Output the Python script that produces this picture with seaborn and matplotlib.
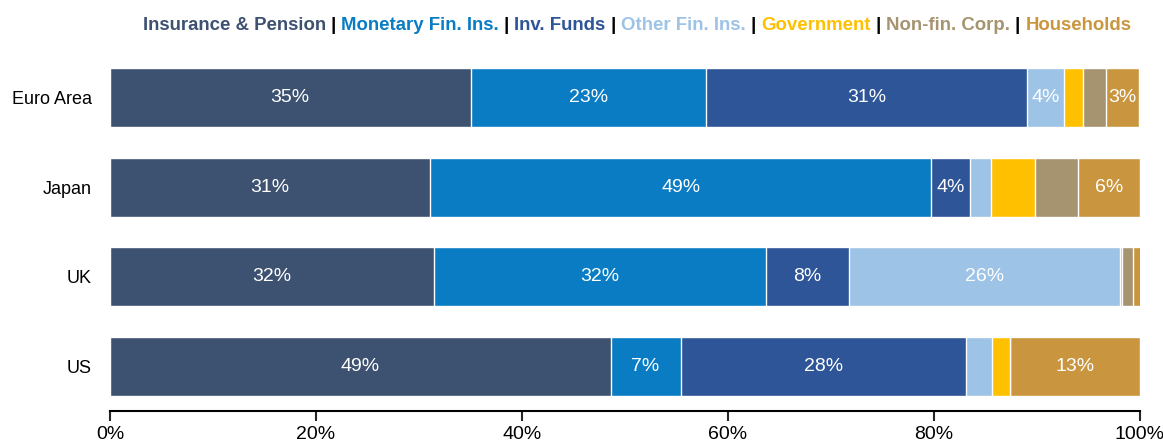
import numpy as np
import pandas as pd
import matplotlib
matplotlib.use("Agg")
import matplotlib.pyplot as plt
import seaborn as sns
from matplotlib.offsetbox import TextArea, HPacker, AnchoredOffsetbox

# data (shares in %)
countries = ["Euro Area", "Japan", "UK", "US"]
sectors = ["Insurance & Pension", "Monetary Fin. Ins.", "Inv. Funds", "Other Fin. Ins.",
           "Government", "Non-fin. Corp.", "Households"]
insurance = [35.0, 31.1, 31.5, 48.6]
monetary = [22.9, 48.6, 32.2, 6.8]
inv_funds = [31.1, 3.8, 8.0, 27.7]
other_fin = [3.6, 2.0, 26.4, 2.5]
government = [1.9, 4.3, 0.2, 1.8]
non_fin = [2.2, 4.2, 1.0, 0.0]
households = [3.2, 6.0, 0.8, 12.6]

colors = ["#3D5170", "#0A7CC4", "#2E5597", "#9DC3E6", "#FFC000", "#A69370", "#C9963F"]
no_label = ["Government", "Non-fin. Corp."]

df = pd.DataFrame(
    [insurance, monetary, inv_funds, other_fin, government, non_fin, households],
    index=sectors, columns=countries).T
cum = df.cumsum(axis=1)

sns.set_style("white")
plt.rcParams['font.family'] = ['Liberation Sans', 'DejaVu Sans']

fig = plt.figure(figsize=(11.63, 4.45), dpi=100)
ax = fig.add_axes([110 / 1163, 1 - 411 / 445, 1030 / 1163, 358 / 445])

# stacked bars: draw cumulative totals from the last sector backwards
for i in range(len(sectors) - 1, -1, -1):
    s = sectors[i]
    sns.barplot(x=cum[s].values, y=countries, orient="h", color=colors[i],
                width=0.66, edgecolor="white", linewidth=1, saturation=1, ax=ax)

for i, s in enumerate(sectors):
    if s in no_label:
        continue
    for j, c in enumerate(countries):
        v = df.loc[c, s]
        if v >= 3:
            ax.text(cum.loc[c, s] - v / 2, j, f"{v:.0f}%", ha="center", va="center",
                    color="white", fontsize=14)

ax.set_xlim(0, 100)
ax.set_ylim(3.5, -0.5)
ax.set_xticks([0, 20, 40, 60, 80, 100])
ax.set_xticklabels([f"{t}%" for t in [0, 20, 40, 60, 80, 100]], fontsize=14)
ax.tick_params(axis="y", labelsize=13, length=0, pad=13, labelcolor="black")
ax.tick_params(axis="x", length=7, width=1.5, direction="out", bottom=True, pad=4,
               labelcolor="black")
ax.set_xlabel("")
ax.set_ylabel("")
for sp in ["top", "right", "left"]:
    ax.spines[sp].set_visible(False)
ax.spines["bottom"].set_linewidth(1.5)
ax.spines["bottom"].set_color("black")

# coloured legend line at the top
parts = []
for i, s in enumerate(sectors):
    parts.append(TextArea(s, textprops=dict(color=colors[i], fontsize=13.4, fontweight="bold")))
    if i < len(sectors) - 1:
        parts.append(TextArea(" | ", textprops=dict(color="black", fontsize=13.4, fontweight="bold")))
box = HPacker(children=parts, pad=0, sep=0, align="baseline")
anchored = AnchoredOffsetbox(loc="center", child=box, frameon=False, pad=0,
                             bbox_to_anchor=(637 / 1163, 1 - 25 / 445),
                             bbox_transform=fig.transFigure, borderpad=0)
fig.add_artist(anchored)

fig.savefig("out.png", dpi=100)
